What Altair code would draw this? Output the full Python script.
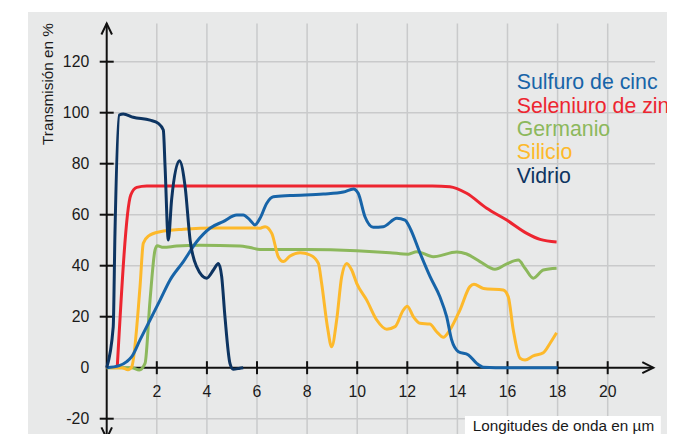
import altair as alt
import pandas as pd

# ---------------- data ----------------
SERIES = ["Sulfuro de cinc", "Seleniuro de zinc", "Germanio", "Silicio", "Vidrio"]
COLORS = ["#1764a8", "#ed2530", "#8cb85c", "#fdb92b", "#0d3461"]

sulfuro_x = [0, 0.5, 0.8, 1.0, 1.33, 1.73, 2.13, 2.53, 3.06, 3.59, 4.12, 4.65, 5.19, 5.45, 5.72, 5.92,
             6.12, 6.39, 6.65, 7.32, 8.65, 9.45, 9.85, 10.04, 10.31, 10.64, 11.04, 11.58, 11.91, 12.11,
             12.51, 12.91, 13.3, 13.57, 13.77, 14.04, 14.44, 14.77, 15.04, 16.0, 18.0]
sulfuro_y = [0, 0.8, 2.4, 4.3, 10.9, 18.7, 26.5, 34.4, 41.6, 49.4, 54.7, 57.3, 59.9, 59.9, 57.9, 56.0,
             58.6, 64.5, 67.0, 67.5, 68.1, 68.9, 70.1, 68.4, 59.2, 55.1, 55.3, 58.6, 57.9, 54.7,
             44.9, 35.7, 27.8, 20.0, 10.9, 6.3, 5.0, 1.7, 0.2, 0, 0]

selen_x = [0.42, 0.96, 1.2, 1.6, 6.0, 10.0, 13.0, 13.7, 14.37, 15.17, 15.97, 16.77, 17.3, 17.96]
selen_y = [0, 67.7, 70.7, 71.3, 71.3, 71.3, 71.3, 71.0, 68.4, 62.5, 57.9, 52.7, 50.3, 49.3]

german_x = [0, 1.0, 1.3, 1.53, 1.73, 1.93, 2.02, 2.26, 2.79, 3.72, 5.32, 5.72, 6.12, 7.98, 9.98,
            11.31, 12.04, 12.38, 13.04, 13.97, 14.37, 14.9, 15.5, 15.97, 16.43, 16.7, 17.03, 17.43, 17.96]
german_y = [0, 0, -0.9, 1.7, 26.5, 46.2, 47.8, 47.2, 47.7, 48.0, 47.7, 47.1, 46.4, 46.4, 45.9,
            45.1, 44.5, 45.5, 43.5, 45.4, 44.6, 41.6, 38.6, 40.7, 42.2, 39.0, 35.1, 38.3, 39.0]

silic_x = [0, 0.6, 0.85, 1.0, 1.33, 1.46, 1.66, 2.13, 3.06, 4.39, 5.72, 6.12, 6.32, 6.59, 6.85, 7.05,
           7.32, 7.72, 8.12, 8.45, 8.58, 8.81, 8.98, 9.18, 9.38, 9.58, 9.78, 9.98, 10.38, 10.78, 11.18,
           11.51, 11.84, 12.0, 12.24, 12.51, 12.9, 13.17, 13.44, 13.7, 14.1, 14.5, 14.66, 15.04, 15.83,
           16.03, 16.23, 16.5, 16.7, 17.03, 17.43, 17.7, 17.96]
silic_y = [0, 0, -0.8, 0.4, 31.8, 48.8, 51.6, 53.3, 54.3, 54.8, 54.8, 54.7, 55.3, 52.7, 43.5, 41.6,
           43.8, 45.1, 44.2, 40.9, 33.1, 16.1, 8.2, 18.7, 35.7, 40.9, 38.3, 33.1, 26.5, 18.7, 15.1,
           16.1, 22.6, 24.1, 20.0, 17.4, 17.1, 14.1, 11.9, 14.8, 22.6, 31.8, 32.7, 31.1, 30.5,
           27.8, 14.8, 3.7, 3.0, 4.6, 5.9, 9.6, 13.7]

vidrio_x = [0, 0.26, 0.33, 0.5, 0.66, 1.06, 1.73, 2.06, 2.26, 2.33, 2.46, 2.59, 2.9, 3.13, 3.33,
            3.59, 3.99, 4.26, 4.46, 4.59, 4.72, 4.92, 5.05, 5.32, 5.45]
vidrio_y = [0, 16.0, 52.8, 99.1, 99.5, 98.2, 97.1, 95.8, 93.2, 78.8, 50.1, 65.8, 81.2, 71.0, 50.0,
            39.6, 35.1, 38.3, 40.9, 35.7, 20.0, 1.7, -0.6, -0.2, 0]

X_GRID = [2, 4, 6, 8, 10, 12, 14, 16, 18, 20]
Y_GRID = [-20, 20, 40, 60, 80, 100, 120]
X_LABELS = ["2", "4", "6", "8", "10", "12", "14", "16", "18", "20"]
Y_TICKS = [-20, 0, 20, 40, 60, 80, 100, 120]
Y_LABELS = ["-20", "0", "20", "40", "60", "80", "100", "120"]

Y_TITLE = "Transmisión en %"
X_TITLE = "Longitudes de onda en µm"

# ---------------- layout ----------------
W, H = 639, 422
X_MIN = -3.142
X_MAX = X_MIN + W / 25.05
Y_MAX = 139.49
Y_MIN = Y_MAX - H / 2.55
GRID_TOP = 135
GRID_RIGHT = 21.89
ARROW_RIGHT = 21.82
ARROW_BOTTOM = -27.7

BG = "#e8e9e9"
GRID = "#c9cacb"
AX = "#111111"
FONT = "Liberation Sans, Arial"
LBL = 15.8

xsc = alt.Scale(domain=[X_MIN, X_MAX], nice=False, zero=False)
ysc = alt.Scale(domain=[Y_MIN, Y_MAX], nice=False, zero=False)


def XD(v):
    return alt.XDatum(v, scale=xsc, axis=None)


def YD(v):
    return alt.YDatum(v, scale=ysc, axis=None)


def one():
    return alt.Chart(pd.DataFrame({"k": [0]}))


layers = []

# gridlines
layers.append(
    alt.Chart(pd.DataFrame({"v": X_GRID})).mark_rule(color=GRID, strokeWidth=1.5).encode(
        x=alt.X("v:Q", scale=xsc, axis=None), y=YD(GRID_TOP), y2=alt.Y2Datum(Y_MIN))
)
layers.append(
    alt.Chart(pd.DataFrame({"v": Y_GRID})).mark_rule(color=GRID, strokeWidth=1.5).encode(
        y=alt.Y("v:Q", scale=ysc, axis=None), x=XD(0), x2=alt.X2Datum(GRID_RIGHT))
)

# axes lines
layers.append(one().mark_rule(color=AX, strokeWidth=2).encode(
    x=XD(0), y=YD(ARROW_BOTTOM), y2=alt.Y2Datum(GRID_TOP)))
layers.append(one().mark_rule(color=AX, strokeWidth=2).encode(
    y=YD(0), x=XD(0), x2=alt.X2Datum(ARROW_RIGHT)))

# arrowheads
layers.append(one().mark_point(shape="M-0.48,1L0,0L0.48,1", size=484, filled=False,
                               color=AX, strokeWidth=2, opacity=1).encode(x=XD(0), y=YD(GRID_TOP)))
layers.append(one().mark_point(shape="M-0.48,-1L0,0L0.48,-1", size=484, filled=False,
                               color=AX, strokeWidth=2, opacity=1).encode(x=XD(0), y=YD(ARROW_BOTTOM)))
layers.append(one().mark_point(shape="M-1,-0.5L0,0L-1,0.5", size=484, filled=False,
                               color=AX, strokeWidth=2, opacity=1).encode(x=XD(ARROW_RIGHT), y=YD(0)))

# ticks
layers.append(
    alt.Chart(pd.DataFrame({"v": X_GRID})).mark_tick(orient="vertical", size=13, thickness=2, color=AX,
                                                     opacity=1).encode(
        x=alt.X("v:Q", scale=xsc, axis=None), y=YD(0))
)
layers.append(
    alt.Chart(pd.DataFrame({"v": Y_GRID})).mark_tick(orient="horizontal", size=14, thickness=2, color=AX,
                                                     opacity=1).encode(
        y=alt.Y("v:Q", scale=ysc, axis=None), x=XD(0))
)

# tick labels
layers.append(
    alt.Chart(pd.DataFrame({"v": X_GRID, "t": X_LABELS})).mark_text(
        font=FONT, fontSize=LBL, color="#1a1a1a", align="center", baseline="alphabetic", dy=29).encode(
        x=alt.X("v:Q", scale=xsc, axis=None), y=YD(0), text="t:N")
)
layers.append(
    alt.Chart(pd.DataFrame({"v": Y_TICKS, "t": Y_LABELS})).mark_text(
        font=FONT, fontSize=LBL, color="#1a1a1a", align="right", baseline="middle", dx=-17.5).encode(
        y=alt.Y("v:Q", scale=ysc, axis=None), x=XD(0), text="t:N")
)

# series lines
series_xy = [(sulfuro_x, sulfuro_y), (selen_x, selen_y), (german_x, german_y),
             (silic_x, silic_y), (vidrio_x, vidrio_y)]
draw_order = [1, 2, 3, 0, 4]
for i in draw_order:
    xs, ys = series_xy[i]
    df = pd.DataFrame({"x": xs, "y": ys})
    layers.append(
        alt.Chart(df).mark_line(color=COLORS[i], strokeWidth=3, interpolate="monotone").encode(
            x=alt.X("x:Q", scale=xsc, axis=None), y=alt.Y("y:Q", scale=ysc, axis=None))
    )

# legend as coloured text
for i, name in enumerate(SERIES):
    layers.append(
        alt.Chart(pd.DataFrame({"t": [name]})).mark_text(
            font=FONT, fontSize=21.3, color=COLORS[i], align="left", baseline="alphabetic").encode(
            text="t:N", x=alt.value(488.7), y=alt.value(77.3 + i * 23.35))
    )

# y title
layers.append(
    alt.Chart(pd.DataFrame({"t": [Y_TITLE]})).mark_text(
        font=FONT, fontSize=15.3, color="#1a1a1a", angle=270, align="center", baseline="middle").encode(
        text="t:N", x=alt.value(20), y=alt.value(72))
)

# x title with white box
layers.append(one().mark_rect(color="white", opacity=1).encode(
    x=XD(14.30), x2=alt.X2Datum(22.12), y=YD(-18.94), y2=alt.Y2Datum(Y_MIN)))
layers.append(
    alt.Chart(pd.DataFrame({"t": [X_TITLE]})).mark_text(
        font=FONT, fontSize=15.3, color="#1a1a1a", align="left", baseline="alphabetic").encode(
        text="t:N", x=XD(14.61), y=YD(-25.0))
)

chart = alt.layer(*layers).properties(
    width=W, height=H,
    autosize=alt.AutoSizeParams(type="none"),
    padding={"left": 20, "top": 4, "right": 0, "bottom": 0},
    background="white",
).configure_view(fill=BG, stroke=None)

chart.save("out.html", embed_options={"renderer": "svg", "actions": False})
